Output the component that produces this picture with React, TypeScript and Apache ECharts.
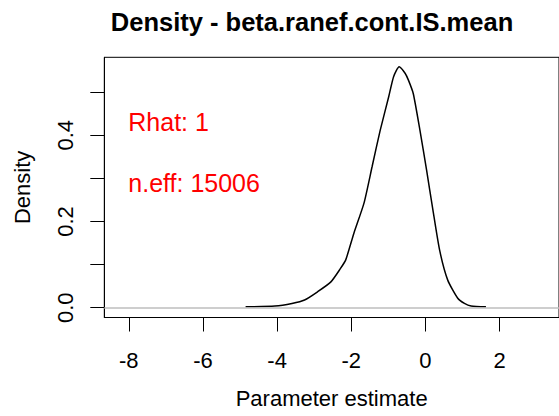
import React, { useEffect, useRef } from "react";
import * as echarts from "echarts";

const densityX = [-4.85, -4.06, -3.6, -3.26, -2.91, -2.55, -2.3, -2.15, -1.93, -1.66, -1.44, -1.22, -0.99, -0.86, -0.71, -0.55, -0.46, -0.33, -0.15, 0.03, 0.2, 0.38, 0.6, 0.87, 1.05, 1.23, 1.63];
const densityY = [0.002, 0.004, 0.01, 0.018, 0.037, 0.06, 0.09, 0.111, 0.173, 0.242, 0.327, 0.412, 0.49, 0.536, 0.559, 0.544, 0.528, 0.497, 0.412, 0.319, 0.227, 0.134, 0.064, 0.022, 0.01, 0.004, 0.002];
const xTicks = [-8, -6, -4, -2, 0, 2];
const yTicks = [0, 0.1, 0.2, 0.3, 0.4, 0.5];
const yLabels = [0, 0.2, 0.4];
const titleText = "Density - beta.ranef.cont.IS.mean";
const rhatText = "Rhat: 1";
const neffText = "n.eff: 15006";

const FONT = "'Liberation Sans', Arial, Helvetica, sans-serif";

export default function App() {
  const ref = useRef<HTMLDivElement>(null);
  useEffect(() => {
    document.body.style.margin = "0";
    if (!ref.current) return;
    const chart = echarts.init(ref.current, null, { renderer: "svg" });
    const data = densityX.map((x, i) => [x, densityY[i]]);
    chart.setOption({
      animation: false,
      backgroundColor: "#ffffff",
      textStyle: { fontFamily: FONT },
      grid: {
        left: 104.3,
        top: 57.3,
        width: 459.7,
        height: 260.2,
        show: true,
        borderColor: "#000",
        borderWidth: 1,
        backgroundColor: "transparent",
      },
      xAxis: {
        type: "value",
        min: -8.66,
        max: 3.6,
        name: "Parameter estimate",
        nameLocation: "middle",
        nameGap: 70,
        nameTextStyle: { fontSize: 22, color: "#000", fontFamily: FONT },
        axisLine: { show: true, onZero: false, lineStyle: { color: "#000", width: 1 } },
        axisTick: { show: true, length: 14, inside: false, customValues: xTicks, lineStyle: { color: "#000" } },
        axisLabel: { customValues: xTicks, fontSize: 22, color: "#000", margin: 32, fontFamily: FONT },
        splitLine: { show: false },
      },
      yAxis: {
        type: "value",
        min: -0.0227,
        max: 0.581,
        name: "Density",
        nameLocation: "middle",
        nameRotate: 90,
        nameGap: 71,
        nameTextStyle: { fontSize: 22, color: "#000", fontFamily: FONT },
        axisLine: { show: true, onZero: false, lineStyle: { color: "#000", width: 1 } },
        axisTick: { show: true, length: 14, inside: false, customValues: yTicks, lineStyle: { color: "#000" } },
        axisLabel: {
          customValues: yLabels,
          rotate: 90,
          fontSize: 22,
          color: "#000",
          margin: 28,
          fontFamily: FONT,
          formatter: (v: number) => v.toFixed(1),
        },
        splitLine: { show: false },
      },
      series: [
        {
          type: "line",
          data,
          showSymbol: false,
          smooth: 0.2,
          lineStyle: { color: "#000", width: 1.5 },
          markLine: {
            silent: true,
            symbol: ["none", "none"],
            label: { show: false },
            lineStyle: { color: "#bebebe", width: 1.5, type: "solid" },
            data: [{ yAxis: 0 }],
          },
          z: 3,
        },
      ],
      graphic: [
        {
          type: "text",
          x: 312,
          y: 22,
          style: {
            text: titleText,
            font: `bold 25.5px ${FONT}`,
            fill: "#000",
            align: "center",
            verticalAlign: "middle",
          },
        },
        {
          type: "text",
          x: 128.3,
          y: 122,
          style: {
            text: rhatText,
            font: `25px ${FONT}`,
            fill: "#ff0000",
            align: "left",
            verticalAlign: "middle",
          },
        },
        {
          type: "text",
          x: 128.3,
          y: 182.5,
          style: {
            text: neffText,
            font: `25px ${FONT}`,
            fill: "#ff0000",
            align: "left",
            verticalAlign: "middle",
          },
        },
      ],
    });
    return () => chart.dispose();
  }, []);
  return <div ref={ref} style={{ width: 559, height: 416 }} />;
}
